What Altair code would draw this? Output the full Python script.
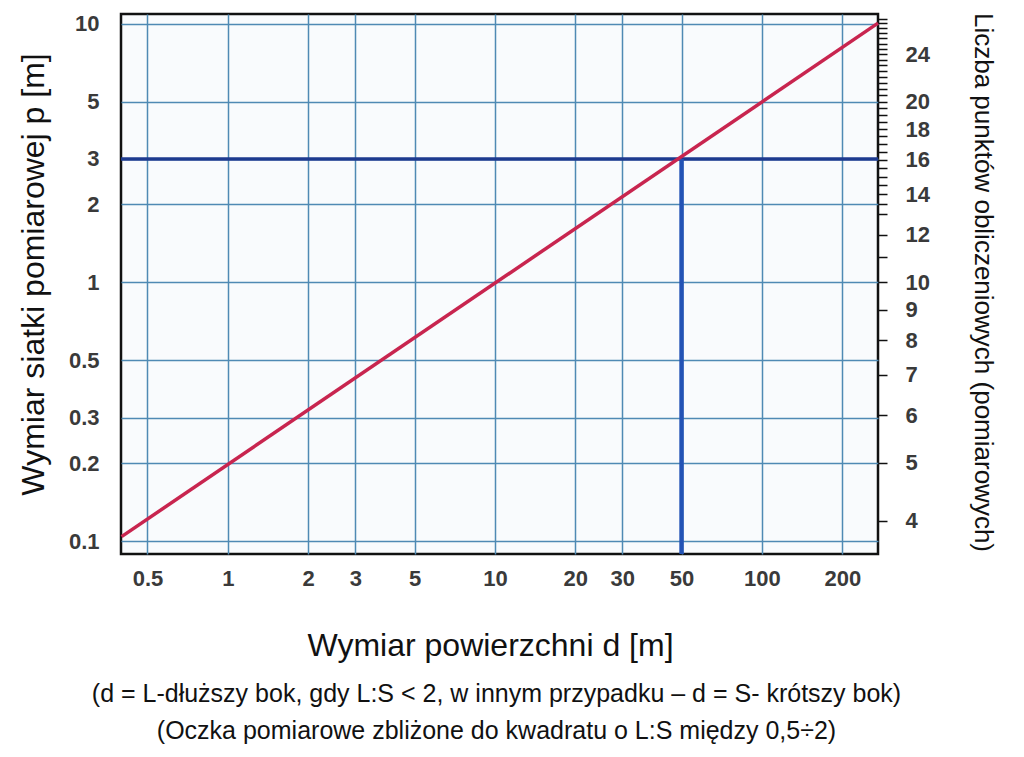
import altair as alt
import pandas as pd

# ---- data ----
line_d = [0.4, 272]          # Wymiar powierzchni d [m]
line_p = [0.104, 10.05]      # Wymiar siatki pomiarowej p [m]

level_p = [3]                # horizontal reading line
level_d = [50]               # vertical reading line

x_domain = [0.398, 272]
y_domain = [0.0891, 10.9]
n_domain = [3.52, 28.0]      # right axis: Liczba punktów obliczeniowych

x_ticks = [0.5, 1, 2, 3, 5, 10, 20, 30, 50, 100, 200]
y_ticks = [0.1, 0.2, 0.3, 0.5, 1, 2, 3, 5, 10]
n_ticks = [4, 5, 6, 7, 8, 9, 10, 11, 12, 13, 13.5, 14, 14.5, 15, 15.5, 16, 16.5,
           17, 17.5, 18, 18.5, 19, 19.5, 20, 20.5, 21, 21.5, 22, 22.5, 23, 23.5,
           24, 24.5, 25, 25.5, 26, 26.5, 27, 27.5]
n_labels = [4, 5, 6, 7, 8, 9, 10, 12, 14, 16, 18, 20, 24]

footer = ["(d = L-dłuższy bok, gdy L:S < 2, w innym przypadku – d = S- krótszy bok)",
          "(Oczka pomiarowe zbliżone do kwadratu o L:S między 0,5÷2)"]

W, H = 757, 540
LABEL_COLOR = "#3a3a3a"
GRID_COLOR = "#4f8ab4"
LABEL_SIZE = 22

line_df = pd.DataFrame({"d": line_d, "p": line_p})
hline_df = pd.DataFrame({"p": level_p})
vline_df = pd.DataFrame({"d": level_d, "p0": [y_domain[0]], "p": level_p})
right_df = pd.DataFrame({"n": n_ticks})

x_scale = alt.Scale(type="log", domain=x_domain, nice=False)
y_scale = alt.Scale(type="log", domain=y_domain, nice=False)

x_axis = alt.Axis(values=x_ticks, format="~g", grid=True, gridColor=GRID_COLOR, gridWidth=1.5,
                  ticks=False, domain=False, labelFontSize=LABEL_SIZE, labelColor=LABEL_COLOR,
                  labelFontWeight="bold", labelPadding=14, labelOverlap=False, labelFlush=False,
                  title="Wymiar powierzchni d [m]", titleFontSize=32, titleFontWeight="normal",
                  titleColor="#111111", titleX=369, titleY=91, titleBaseline="middle",
                  titleAlign="center")
y_axis = alt.Axis(values=y_ticks, format="~g", grid=True, gridColor=GRID_COLOR, gridWidth=1.5,
                  ticks=False, domain=False, labelFontSize=LABEL_SIZE, labelColor=LABEL_COLOR,
                  labelFontWeight="bold", labelPadding=22, labelOverlap=False, labelFlush=False,
                  title="Wymiar siatki pomiarowej p [m]", titleFontSize=32, titleFontWeight="normal",
                  titleColor="#111111", titleAngle=-90, titleX=-88, titleY=260,
                  titleBaseline="middle", titleAlign="center")

hline = alt.Chart(hline_df).mark_rule(color="#1d3a8f", strokeWidth=3.5).encode(
    y=alt.Y("p:Q", scale=y_scale, axis=y_axis),
)
vline = alt.Chart(vline_df).mark_rule(color="#2353b5", strokeWidth=4.5).encode(
    x=alt.X("d:Q", scale=x_scale, axis=x_axis),
    y=alt.Y("p0:Q", scale=y_scale),
    y2="p:Q",
)
red = alt.Chart(line_df).mark_line(color="#c8254f", strokeWidth=3.5).encode(
    x=alt.X("d:Q", scale=x_scale),
    y=alt.Y("p:Q", scale=y_scale),
)

labels_expr = "indexof(" + str(n_labels) + ", datum.value) >= 0 ? datum.label : ''"
right = alt.Chart(right_df).mark_point(opacity=0).encode(
    y=alt.Y("n:Q", scale=alt.Scale(type="log", domain=n_domain, nice=False),
            axis=alt.Axis(orient="right", values=n_ticks, format="~g", labelExpr=labels_expr,
                          grid=False, domain=False, ticks=True, tickSize=9, tickWidth=1.5,
                          tickColor="#111111", labelFontSize=LABEL_SIZE, labelColor=LABEL_COLOR,
                          labelFontWeight="bold", labelPadding=18, labelOverlap=False,
                          labelFlush=False,
                          title="Liczba punktów obliczeniowych (pomiarowych)", titleFontSize=26,
                          titleFontWeight="normal", titleColor="#111111", titleAngle=90,
                          titleX=104, titleY=268, titleBaseline="middle", titleAlign="center")),
)

left_layers = alt.layer(hline, vline, red)
chart = alt.layer(left_layers, right).resolve_scale(y="independent").properties(
    width=W, height=H,
    autosize=alt.AutoSizeParams(type="none"),
    padding={"left": 121, "top": 14, "right": 146, "bottom": 203},
    background="white",
    title=alt.TitleParams(text=footer, orient="bottom", anchor="middle", fontSize=25,
                          fontWeight="normal", color="#111111", lineHeight=37, offset=21,
                          dx=-3),
).configure(font="Liberation Sans").configure_view(
    stroke="#111111", strokeWidth=2.5, fill="#f9fbfd"
)

chart.save("out.html", embed_options={"renderer": "svg", "actions": False})
